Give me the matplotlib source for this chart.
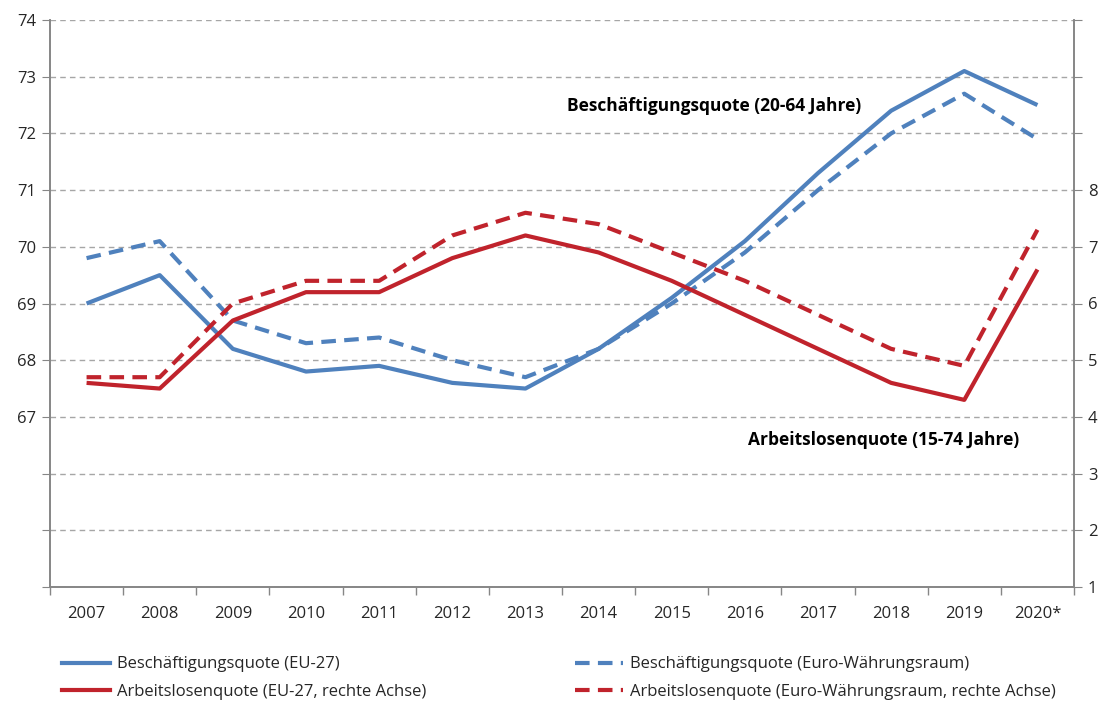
import matplotlib.pyplot as plt
import numpy as np
from matplotlib.lines import Line2D

years = ["2007", "2008", "2009", "2010", "2011", "2012", "2013",
         "2014", "2015", "2016", "2017", "2018", "2019", "2020*"]

# Beschäftigungsquote (linke Achse)
emp_eu27 = [69.0, 69.5, 68.2, 67.8, 67.9, 67.6, 67.5,
            68.2, 69.1, 70.1, 71.3, 72.4, 73.1, 72.5]
emp_euro = [69.8, 70.1, 68.7, 68.3, 68.4, 68.0, 67.7,
            68.2, 69.0, 69.9, 71.0, 72.0, 72.7, 71.9]

# Arbeitslosenquote (rechte Achse)
unemp_eu27 = [4.6, 4.5, 5.7, 6.2, 6.2, 6.8, 7.2,
              6.9, 6.4, 5.8, 5.2, 4.6, 4.3, 6.6]
unemp_euro = [4.7, 4.7, 6.0, 6.4, 6.4, 7.2, 7.6,
              7.4, 6.9, 6.4, 5.8, 5.2, 4.9, 7.3]

left_ticks = list(range(64, 75))
left_labels = ["", "", ""] + [str(v) for v in range(67, 75)]
right_ticks = list(range(1, 12))
right_labels = [str(v) for v in range(1, 9)] + ["", "", ""]

BLUE = "#4F81BD"
RED = "#C0232C"
AXIS = "#868686"
TXT = "#262626"

plt.rcParams["font.family"] = ["Open Sans", "DejaVu Sans"]

fig = plt.figure(figsize=(11.01, 7.02), dpi=100)
ax = fig.add_axes([50 / 1101, 1 - 587 / 702, 1024 / 1101, 567 / 702])
ax2 = ax.twinx()

x = np.arange(len(years))
lw = 3.0
dash = (0, (3.5, 2))
ax.plot(x, emp_eu27, color=BLUE, lw=lw, solid_capstyle="butt")
ax.plot(x, emp_euro, color=BLUE, lw=lw, ls=dash)
ax2.plot(x, unemp_eu27, color=RED, lw=lw, solid_capstyle="butt")
ax2.plot(x, unemp_euro, color=RED, lw=lw, ls=dash)

ax.set_xlim(-0.5, len(years) - 0.5)
ax.set_ylim(64, 74)
ax2.set_ylim(1, 11)

ax.set_yticks(left_ticks)
ax.set_yticklabels(left_labels)
ax2.set_yticks(right_ticks)
ax2.set_yticklabels(right_labels)
ax.yaxis.grid(True, color="#A6A6A6", ls=(0, (4, 3)), lw=1)
ax.set_axisbelow(True)

ax.set_xticks(x)
ax.set_xticklabels(years)
ax.set_xticks(np.arange(-0.5, len(years)), minor=True)
ax.tick_params(axis="x", which="major", length=0, pad=14, labelsize=12, colors=TXT)
ax.tick_params(axis="x", which="minor", length=6, color=AXIS, width=1)
ax.tick_params(axis="y", length=6, color=AXIS, labelsize=12, labelcolor=TXT, pad=4)
ax2.tick_params(axis="y", length=6, color=AXIS, labelsize=12, labelcolor=TXT, pad=4)

for a in (ax, ax2):
    a.spines["top"].set_visible(False)
    for s in ("left", "right", "bottom"):
        a.spines[s].set_color(AXIS)
        a.spines[s].set_linewidth(1.2)

ax.text(0.649, 0.848, "Beschäftigungsquote (20-64 Jahre)", transform=ax.transAxes,
        ha="center", va="center", fontsize=12.5, fontweight="bold", color="black")
ax.text(0.814, 0.259, "Arbeitslosenquote (15-74 Jahre)", transform=ax.transAxes,
        ha="center", va="center", fontsize=12.5, fontweight="bold", color="black")

handles = [
    Line2D([], [], color=BLUE, lw=lw),
    Line2D([], [], color=RED, lw=lw),
    Line2D([], [], color=BLUE, lw=lw, ls=dash),
    Line2D([], [], color=RED, lw=lw, ls=dash),
]
labels = [
    "Beschäftigungsquote (EU-27)",
    "Arbeitslosenquote (EU-27, rechte Achse)",
    "Beschäftigungsquote (Euro-Währungsraum)",
    "Arbeitslosenquote (Euro-Währungsraum, rechte Achse)",
]
fig.legend(handles, labels, ncol=2, loc="center left",
           bbox_to_anchor=(47 / 1101, 1 - 678 / 702), frameon=False,
           fontsize=12, handlelength=2.9, handletextpad=0.4,
           columnspacing=8.9, labelspacing=0.68, labelcolor=TXT)

fig.savefig("out.png", dpi=100)
